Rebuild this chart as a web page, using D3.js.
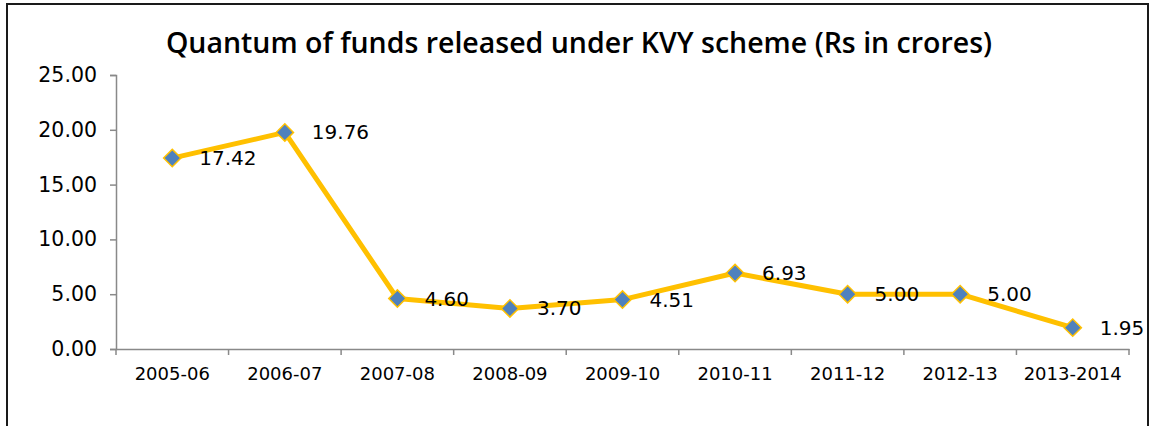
<!DOCTYPE html>
<html>
<head>
<meta charset="utf-8">
<script src="https://cdn.jsdelivr.net/npm/d3@7"></script>
<style>
  body { margin: 0; background: #fff; }
</style>
</head>
<body>
<div id="chart"></div>
<script>
var years = ['2005-06', '2006-07', '2007-08', '2008-09', '2009-10', '2010-11', '2011-12', '2012-13', '2013-2014'];
var funds = [17.42, 19.76, 4.60, 3.70, 4.51, 6.93, 5.00, 5.00, 1.95];
var yTicks = [0, 5, 10, 15, 20, 25];

var width = 1160;
var height = 426;

var svg = d3.select('#chart')
    .append('svg')
    .attr('width', width)
    .attr('height', height);

// frame (no bottom edge visible)
svg.append('path')
    .attr('d', 'M7,426 V4 H1148 V426')
    .attr('fill', 'none')
    .attr('stroke', '#1a1a1a')
    .attr('stroke-width', 2);

svg.append('text')
    .attr('x', 579)
    .attr('y', 53)
    .attr('text-anchor', 'middle')
    .style('font-family', '"Open Sans", sans-serif')
    .style('font-weight', 600)
    .style('font-size', '28.5px')
    .attr('fill', '#000')
    .text('Quantum of funds released under KVY scheme (Rs in crores)');

var x = d3.scaleBand().domain(years).range([116, 1129]);
var y = d3.scaleLinear().domain([0, 25]).range([349, 75]);

var axisColor = '#898989';

var gy = svg.append('g')
    .attr('transform', 'translate(116,0)')
    .call(d3.axisLeft(y).tickValues(yTicks).tickSize(6).tickPadding(13)
        .tickFormat(d3.format('.2f')));

var gx = svg.append('g')
    .attr('transform', 'translate(0,349)')
    .call(d3.axisBottom(x).tickSize(0).tickPadding(0).tickFormat(''));

// category boundary ticks
svg.append('g').selectAll('line')
    .data(d3.range(years.length + 1))
    .join('line')
    .attr('x1', function (i) { return 116 + i * x.step(); })
    .attr('x2', function (i) { return 116 + i * x.step(); })
    .attr('y1', 349)
    .attr('y2', 355)
    .attr('stroke', axisColor)
    .attr('stroke-width', 1.5);

svg.append('g').selectAll('text')
    .data(years)
    .join('text')
    .attr('x', function (d) { return x(d) + x.bandwidth() / 2; })
    .attr('y', 380)
    .attr('text-anchor', 'middle')
    .style('font-family', '"DejaVu Sans", Verdana, sans-serif')
    .style('font-size', '18px')
    .attr('fill', '#000')
    .text(function (d) { return d; });

[gy, gx].forEach(function (g) {
    g.select('.domain').attr('stroke', axisColor).attr('stroke-width', 1.5);
    g.selectAll('.tick line').attr('stroke', axisColor).attr('stroke-width', 1.5);
    g.selectAll('.tick text')
        .style('font-family', '"DejaVu Sans", Verdana, sans-serif')
        .style('font-size', '20.5px')
        .attr('fill', '#000');
});

var cx = function (i) { return x(years[i]) + x.bandwidth() / 2; };

var line = d3.line()
    .x(function (d, i) { return cx(i); })
    .y(function (d) { return y(d); });

svg.append('path')
    .datum(funds)
    .attr('d', line)
    .attr('fill', 'none')
    .attr('stroke', '#FFC000')
    .attr('stroke-width', 5)
    .attr('stroke-linejoin', 'round');

svg.append('g').selectAll('path')
    .data(funds)
    .join('path')
    .attr('d', d3.symbol().type(d3.symbolSquare).size(150))
    .attr('transform', function (d, i) { return 'translate(' + cx(i) + ',' + y(d) + ') rotate(45)'; })
    .attr('fill', '#4F81BD')
    .attr('stroke', '#FFC000')
    .attr('stroke-width', 1.5);

svg.append('g').selectAll('text')
    .data(funds)
    .join('text')
    .attr('x', function (d, i) { return cx(i) + 27; })
    .attr('y', function (d) { return y(d) + 7; })
    .style('font-family', '"DejaVu Sans", Verdana, sans-serif')
    .style('font-size', '20px')
    .attr('fill', '#000')
    .text(function (d) { return d.toFixed(2); });
</script>
</body>
</html>
